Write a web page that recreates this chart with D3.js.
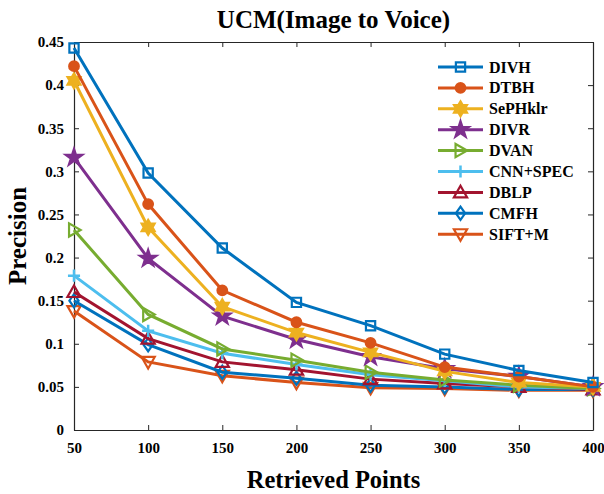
<!DOCTYPE html>
<html>
<head>
<meta charset="utf-8">
<script src="https://cdn.jsdelivr.net/npm/d3@7"></script>
<style>
  body { margin: 0; background: #fff; }
  text { font-family: "Liberation Serif", "Times New Roman", serif; font-weight: bold; }
</style>
</head>
<body>
<div id="chart"></div>
<script>
// retrieved points on the x axis
const points = [50, 100, 150, 200, 250, 300, 350, 400];
const xTicks = [50, 100, 150, 200, 250, 300, 350, 400];
const yTicks = [0, 0.05, 0.1, 0.15, 0.2, 0.25, 0.3, 0.35, 0.4, 0.45];

const methods = ["DIVH", "DTBH", "SePHklr", "DIVR", "DVAN", "CNN+SPEC", "DBLP", "CMFH", "SIFT+M"];

const divh    = [0.443, 0.298, 0.211, 0.148, 0.121, 0.088, 0.069, 0.055];
const dtbh    = [0.422, 0.262, 0.162, 0.125, 0.101, 0.073, 0.062, 0.050];
const sephklr = [0.405, 0.235, 0.143, 0.113, 0.090, 0.068, 0.055, 0.050];
const divr    = [0.316, 0.199, 0.132, 0.105, 0.085, 0.071, 0.062, 0.050];
const dvan    = [0.232, 0.134, 0.094, 0.081, 0.067, 0.058, 0.052, 0.048];
const cnnspec = [0.179, 0.115, 0.089, 0.076, 0.064, 0.057, 0.050, 0.048];
const dblp    = [0.160, 0.106, 0.079, 0.070, 0.059, 0.054, 0.050, 0.047];
const cmfh    = [0.150, 0.099, 0.067, 0.060, 0.052, 0.050, 0.047, 0.047];
const siftm   = [0.138, 0.079, 0.063, 0.055, 0.049, 0.048, 0.046, 0.046];

const seriesValues = [divh, dtbh, sephklr, divr, dvan, cnnspec, dblp, cmfh, siftm];
const colors = ["#0072BD", "#D95319", "#EDB120", "#7E2F8E", "#77AC30", "#4DBEEE", "#A2142F", "#0072BD", "#D95319"];
const markers = ["square", "circle", "hexagram", "star", "right", "plus", "up", "diamond", "down"];

const W = 604, H = 494;
const margin = {top: 42, right: 11, bottom: 64, left: 74};
const width = W - margin.left - margin.right;
const height = H - margin.top - margin.bottom;

const svg = d3.select("#chart").append("svg")
    .attr("width", W)
    .attr("height", H);

const g = svg.append("g")
    .attr("transform", `translate(${margin.left},${margin.top})`);

const x = d3.scaleLinear().domain([50, 400]).range([0, width]);
const y = d3.scaleLinear().domain([0, 0.45]).range([height, 0]);

const axisColor = "#262626";

// axes (ticks inward, box style)
const xAxis = g.append("g").attr("transform", `translate(0,${height})`)
    .call(d3.axisBottom(x).tickValues(xTicks).tickSizeInner(-5).tickSizeOuter(0).tickPadding(12).tickFormat(d3.format("d")));
const yAxis = g.append("g")
    .call(d3.axisLeft(y).tickValues(yTicks).tickSizeInner(-5).tickSizeOuter(0).tickPadding(10).tickFormat(d => d === 0 ? "0" : String(+d.toFixed(2))));
const xTop = g.append("g")
    .call(d3.axisTop(x).tickValues(xTicks).tickSizeInner(-5).tickSizeOuter(0).tickFormat(""));
const yRight = g.append("g").attr("transform", `translate(${width},0)`)
    .call(d3.axisRight(y).tickValues(yTicks).tickSizeInner(-5).tickSizeOuter(0).tickFormat(""));

[xAxis, yAxis, xTop, yRight].forEach(a => {
    a.select(".domain").attr("stroke", axisColor).attr("stroke-width", 1.2);
    a.selectAll(".tick line").attr("stroke", axisColor);
    a.selectAll(".tick text").attr("fill", "#000").style("font-size", "15px")
        .style("font-family", "'Liberation Serif', serif").style("font-weight", "bold");
});

// marker shapes
function markerPath(type, s) {
    switch (type) {
        case "square": { const r = s * 0.42; return `M${-r},${-r}H${r}V${r}H${-r}Z`; }
        case "circle": return d3.symbol(d3.symbolCircle, s * s * 0.6)();
        case "star": return d3.symbol(d3.symbolStar, s * s * 0.7)();
        case "hexagram": {
            const r = s * 0.68, r2 = r * 0.58, pts = [];
            for (let i = 0; i < 12; i++) {
                const a = Math.PI / 6 * i - Math.PI / 2;
                const rr = i % 2 === 0 ? r : r2;
                pts.push([rr * Math.cos(a), rr * Math.sin(a)]);
            }
            return "M" + pts.join("L") + "Z";
        }
        case "plus": { const r = s * 0.55; return `M${-r},0L${r},0M0,${-r}L0,${r}`; }
        case "diamond": { const r = s * 0.6; return `M0,${-r}L${r * 0.7},0L0,${r}L${-r * 0.7},0Z`; }
        case "up": { const r = s * 0.6; return `M0,${-r}L${r},${r * 0.75}L${-r},${r * 0.75}Z`; }
        case "down": { const r = s * 0.6; return `M0,${r}L${r},${-r * 0.75}L${-r},${-r * 0.75}Z`; }
        case "right": { const r = s * 0.6; return `M${r},0L${-r * 0.75},${r}L${-r * 0.75},${-r}Z`; }
    }
}
const filled = {circle: true, star: true, hexagram: true};

function drawMarker(sel, type, color) {
    sel.append("path")
        .attr("d", markerPath(type, 11))
        .attr("fill", filled[type] ? color : "none")
        .attr("stroke", color)
        .attr("stroke-width", type === "plus" ? 2.5 : 2.2)
        .attr("stroke-linejoin", "miter");
}

const line = d3.line().x((d, i) => x(points[i])).y(d => y(d));

// draw series back to front so DIVH is on top
for (let k = methods.length - 1; k >= 0; k--) {
    const vals = seriesValues[k];
    g.append("path")
        .datum(vals)
        .attr("d", line)
        .attr("fill", "none")
        .attr("stroke", colors[k])
        .attr("stroke-width", 3);
    vals.forEach((v, i) => {
        const m = g.append("g").attr("transform", `translate(${x(points[i])},${y(v)})`);
        drawMarker(m, markers[k], colors[k]);
    });
}

// legend
const legend = g.append("g").attr("transform", `translate(${438 - margin.left},${67 - margin.top})`);
methods.forEach((name, k) => {
    const row = legend.append("g").attr("transform", `translate(0,${k * 20.9})`);
    row.append("line").attr("x1", 0).attr("x2", 45).attr("y1", 0).attr("y2", 0)
        .attr("stroke", colors[k]).attr("stroke-width", 3);
    const m = row.append("g").attr("transform", "translate(22.5,0)");
    drawMarker(m, markers[k], colors[k]);
    row.append("text").attr("x", 51).attr("y", 5.5)
        .style("font-size", "16px").text(name);
});

// titles
svg.append("text").attr("x", margin.left + width / 2).attr("y", 28)
    .attr("text-anchor", "middle").style("font-size", "25px").text("UCM(Image to Voice)");
svg.append("text").attr("x", margin.left + width / 2).attr("y", 488)
    .attr("text-anchor", "middle").style("font-size", "24.5px").text("Retrieved Points");
svg.append("text").attr("transform", `translate(26,${margin.top + height / 2}) rotate(-90)`)
    .attr("text-anchor", "middle").style("font-size", "25px").text("Precision");
</script>
</body>
</html>
